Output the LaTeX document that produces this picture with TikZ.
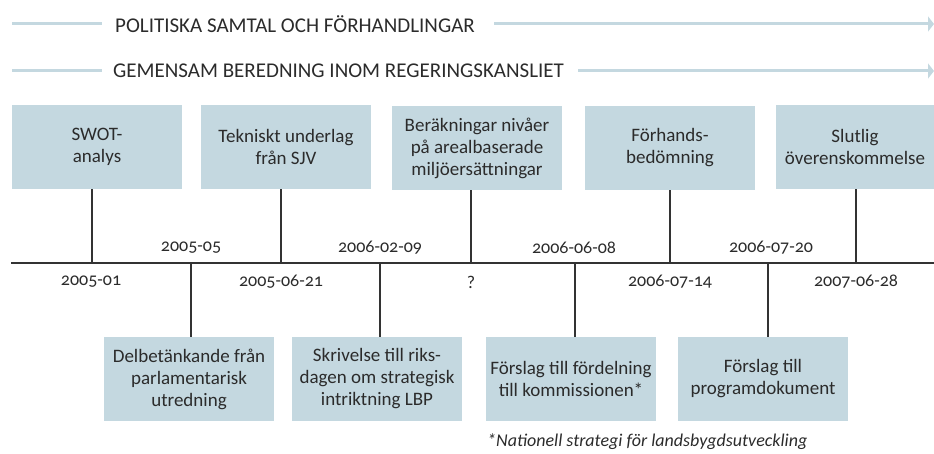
\documentclass[tikz,border=0pt]{standalone}
\usepackage{fontspec}
\setmainfont{Carlito}[Numbers=OldStyle]
\usetikzlibrary{arrows.meta}
\definecolor{boxblue}{HTML}{C4D8E0}
\definecolor{linegrey}{HTML}{333333}
\definecolor{txt}{HTML}{2B2B2B}
\begin{document}
\begin{tikzpicture}[x=1pt,y=-1pt,
  every node/.style={text=txt,font=\fontsize{19}{22}\selectfont},
  evbox/.style={fill=boxblue,minimum width=170pt,minimum height=84pt,align=center,inner sep=0pt},
  hdr/.style={anchor=west,inner sep=0pt,font=\fontsize{21}{24}\selectfont},
  hline/.style={boxblue,line width=3pt},
  tick/.style={linegrey,line width=1.2pt},
  datelbl/.style={inner sep=0pt,font=\fontsize{18}{22}\selectfont}]
\useasboundingbox (0,0) rectangle (934,454);
% header rows
\node[hdr] (h1) at (115,24) {POLITISKA SAMTAL OCH FÖRHANDLINGAR};
\node[hdr] (h2) at (113,71) {GEMENSAM BEREDNING INOM REGERINGSKANSLIET};
\coordinate (h1s) at (12,24); \coordinate (h1e) at (934,24);
\coordinate (h2s) at (12,71); \coordinate (h2e) at (934,71);
\draw[hline] (h1s) -- ([xshift=-13pt]h1.west);
\draw[hline,-{Triangle[length=6pt,width=15pt]}] ([xshift=19pt]h1.east) -- (h1e);
\draw[hline] (h2s) -- ([xshift=-11pt]h2.west);
\draw[hline,-{Triangle[length=6pt,width=15pt]}] ([xshift=14pt]h2.east) -- (h2e);
% timeline
\coordinate (tl0) at (11,263); \coordinate (tl1) at (934,263);
\draw[linegrey,line width=2.6pt] (tl0) -- (tl1);
% top boxes
\node[evbox] (t1) at (97,147) {SWOT-\\analys};
\node[evbox] (t2) at (286,147) {Tekniskt underlag\\från SJV};
\node[evbox] (t3) at (477,148) {Beräkningar nivåer\\på arealbaserade\\miljöersättningar};
\node[evbox] (t4) at (670,148) {Förhands-\\bedömning};
\node[evbox,minimum width=158pt] (t5) at (855,147) {Slutlig\\överenskommelse};
% bottom boxes
\node[evbox] (b1) at (189,379) {Delbetänkande från\\parlamentarisk\\utredning};
\node[evbox] (b2) at (377,379) {Skrivelse till riks-\\dagen om strategisk\\intriktning LBP};
\node[evbox] (b3) at (571,379) {Förslag till fördelning\\till kommissionen*};
\node[evbox] (b4) at (763,379) {Förslag till\\programdokument};
% tick points on timeline
\coordinate (p1) at (92,263);
\coordinate (p2) at (281,263);
\coordinate (p3) at (471,263);
\coordinate (p4) at (670,263);
\coordinate (p5) at (856,263);
\coordinate (q1) at (191,263);
\coordinate (q2) at (380,263);
\coordinate (q3) at (575,263);
\coordinate (q4) at (768,263);
\foreach \i in {1,...,5}{\draw[tick] (p\i) -- (p\i |- t\i.south);}
\foreach \i in {1,...,4}{\draw[tick] (q\i) -- (q\i |- b\i.north);}
% dates below timeline
\node[datelbl] (d1) at (91,282) {2005-01};
\node[datelbl] (d2) at (281,282) {2005-06-21};
\node[datelbl] (d3) at (471,282) {?};
\node[datelbl] (d4) at (670,282) {2006-07-14};
\node[datelbl] (d5) at (856,282) {2007-06-28};
% dates above timeline
\node[datelbl] (e1) at (191,248) {2005-05};
\node[datelbl] (e2) at (380,248) {2006-02-09};
\node[datelbl] (e3) at (574,248) {2006-06-08};
\node[datelbl] (e4) at (771,248) {2006-07-20};
% footnote
\node[anchor=base west,inner sep=0pt,font=\fontsize{18}{22}\selectfont\itshape] (fn) at (487,446) {*Nationell strategi för landsbygdsutveckling};
\end{tikzpicture}
\end{document}
